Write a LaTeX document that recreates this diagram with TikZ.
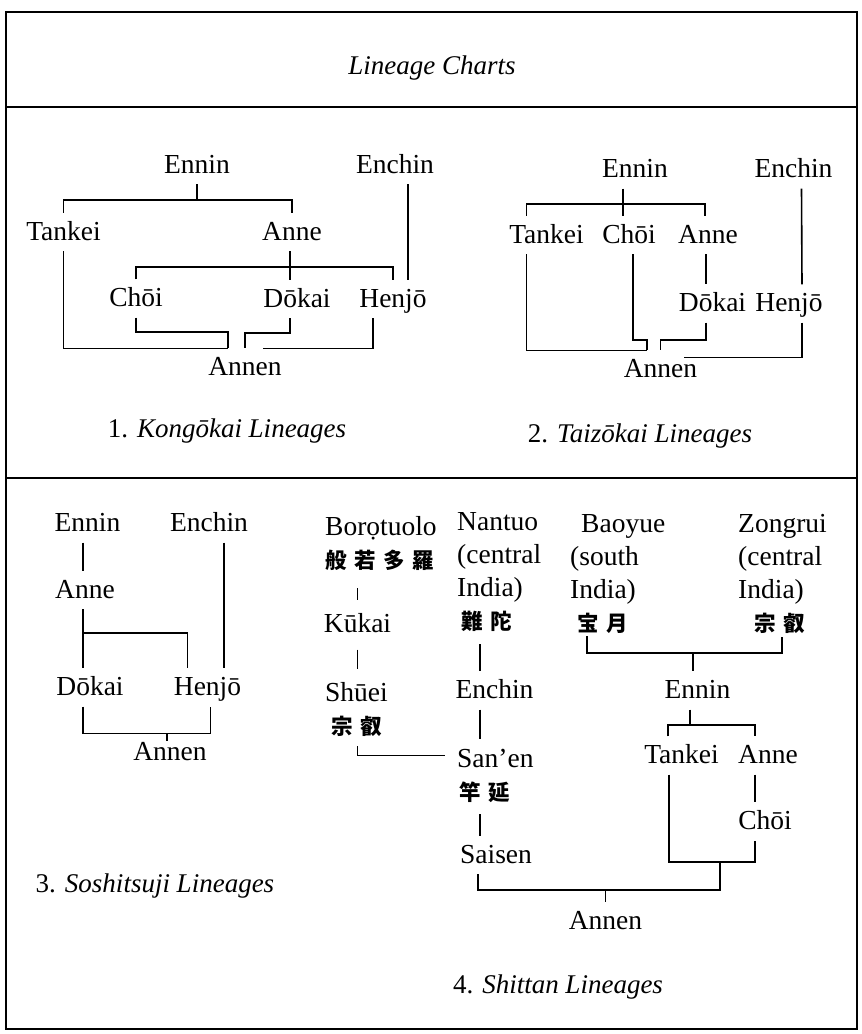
\documentclass[tikz,border=0pt]{standalone}
\usepackage{fontspec}
\setmainfont{Liberation Serif}
\newfontfamily\cjk[LetterSpace=36]{Noto Sans CJK JP}
\newcommand{\kj}[1]{{\cjk\bfseries\fontsize{21.5}{33}\selectfont #1}}
\tikzset{
lin/.style={line width=1.6pt},
monk/.style={font=\fontsize{27.5}{33}\selectfont, inner sep=3pt, text height=24pt, text depth=8pt},
blk/.style={font=\fontsize{27.5}{33}\selectfont, inner sep=3pt, align=left, anchor=north west},
legend/.style={font=\fontsize{27}{33}\selectfont, anchor=base},
}
\begin{document}
\begin{tikzpicture}[x=1pt,y=-1pt]
\useasboundingbox (0,0) rectangle (862,1034);
% frame
\draw[line width=2.5pt] (6,12) rectangle (857,1029);
\draw[line width=2.5pt] (6,107) -- (857,107);
\draw[line width=2.5pt] (6,478) -- (857,478);
\node[legend] (title) at (432,74) {\textit{Lineage Charts}};

% 1. Kongokai
\node[monk] (enninA) at (197,165) {Ennin};
\node[monk] (enchinA) at (395,165) {Enchin};
\node[monk] (tankeiA) at (63.5,232) {Tankei};
\node[monk] (anneA) at (292,232) {Anne};
\node[monk] (choiA) at (136,298.5) {Chōi};
\node[monk] (dokaiA) at (297,299) {Dōkai};
\node[monk] (henjoA) at (393,299) {Henjō};
\node[monk] (annenA) at (245,367.5) {Annen};
\coordinate (brA) at (197,200);
\coordinate (brA2) at (290,267);
\coordinate (jA) at (228,332);
\coordinate (dA) at (245,333);
\draw[lin] (enninA) -- (brA);
\draw[lin] (tankeiA.north) |- (brA) -| (anneA.north);
\draw[lin] ([xshift=13pt]enchinA.south) -- ([xshift=15pt]henjoA.north);
\draw[lin] ([xshift=-2pt]anneA.south) -- ([xshift=-7pt]dokaiA.north);
\draw[lin] (choiA.north) |- (brA2) -| (henjoA.north);
\draw[lin] (tankeiA.south) |- (annenA.north -| jA);
\draw[lin] (choiA.south) |- (jA) -- (annenA.north -| jA);
\draw[lin] ([xshift=-7pt]dokaiA.south) |- (dA) -- (annenA.north);
\draw[lin] ([xshift=-20pt]henjoA.south) |- ([xshift=18pt]annenA.north);
\node[legend] (capA) at (227,437) {1. \textit{Kongōkai Lineages}};

% 2. Taizokai
\node[monk] (enninB) at (635,169.5) {Ennin};
\node[monk] (enchinB) at (793.5,169.5) {Enchin};
\node[monk] (tankeiB) at (546.5,235) {Tankei};
\node[monk] (choiB) at (629,235) {Chōi};
\node[monk] (anneB) at (708,235) {Anne};
\node[monk] (dokaiB) at (712.5,303.5) {Dōkai};
\node[monk] (henjoB) at (789,303.5) {Henjō};
\node[monk] (annenB) at (660.5,369.5) {Annen};
\coordinate (brB) at (623,204);
\coordinate (jB) at (647,340);
\coordinate (dB) at (660.5,340);
\coordinate (hB) at (683.5,357.5);
\draw[lin] ([xshift=-12pt]enninB.south) -- ([xshift=-6pt]choiB.north);
\draw[lin] ([xshift=-20pt]tankeiB.north) |- (brB) -| ([xshift=-3pt]anneB.north);
\draw[lin] ([xshift=8pt]enchinB.south) -- ([xshift=13pt]henjoB.north);
\draw[lin] ([xshift=-2pt]anneB.south) -- ([xshift=-6.5pt]dokaiB.north);
\draw[lin] ([xshift=-20pt]tankeiB.south) |- (annenB.north -| jB);
\draw[lin] ([xshift=4pt]choiB.south) |- (jB) -- (annenB.north -| jB);
\draw[lin] ([xshift=-6.5pt]dokaiB.south) |- (dB) -- (annenB.north);
\draw[lin] ([xshift=13pt]henjoB.south) |- (hB);
\node[legend] (capB) at (640,442) {2. \textit{Taizōkai Lineages}};

% 3. Soshitsuji
\node[monk] (enninC) at (87.5,523.5) {Ennin};
\node[monk] (enchinC) at (209,523.5) {Enchin};
\node[monk] (anneC) at (85,590) {Anne};
\node[monk] (dokaiC) at (90,687.5) {Dōkai};
\node[monk] (henjoC) at (207.5,687.5) {Henjō};
\node[monk] (annenC) at (170,752.5) {Annen};
\coordinate (brC) at (83,633);
\draw[lin] ([xshift=-4.5pt]enninC.south) -- ([xshift=-2pt]anneC.north);
\draw[lin] ([xshift=15pt]enchinC.south) -- ([xshift=16.5pt]henjoC.north);
\draw[lin] ([xshift=-2pt]anneC.south) -- ([xshift=-7pt]dokaiC.north);
\draw[lin] (brC) -| ([xshift=-20pt]henjoC.north);
\draw[lin] ([xshift=-7pt]dokaiC.south) |- ([xshift=-3pt]annenC.north) -| ([xshift=3pt]henjoC.south);
\draw[lin] ([xshift=-3pt]annenC.north) -- ([xshift=-3pt,yshift=-8pt]annenC.north);
\node[legend] (capC) at (155,892) {3. \textit{Soshitsuji Lineages}};

% 4. Shittan
\node[blk] (boroD) at (322,513.5) {Borọtuolo\\\kj{般若多羅}};
\node[monk] (kukaiD) at (357.5,624.5) {Kūkai};
\node[blk] (shueiD) at (322,679.5) {Shūei\\\hspace*{6pt}\kj{宗叡}};
\node[blk] (nantuoD) at (454,509.5) {Nantuo\\(central\\India)\\\hspace*{4pt}\kj{難陀}};
\node[monk] (enchinD) at (494.5,690.5) {Enchin};
\node[blk] (sanenD) at (454,746.5) {San’en\\\hspace*{2pt}\kj{竿延}};
\node[monk] (saisenD) at (496,855) {Saisen};
\node[blk] (baoyueD) at (567,511) {\hspace*{11pt}Baoyue\\(south\\India)\\\hspace*{7pt}\kj{宝月}};
\node[blk] (zongruiD) at (735,511) {Zongrui\\(central\\India)\\\hspace*{16pt}\kj{宗叡}};
\node[monk] (enninD) at (697.5,690.5) {Ennin};
\node[monk] (tankeiD) at (681.5,755.5) {Tankei};
\node[monk] (anneD) at (768,755.5) {Anne};
\node[monk] (choiD) at (765,821.5) {Chōi};
\node[monk] (annenD) at (605.5,921.5) {Annen};
\coordinate (brD1) at (693,653);
\coordinate (brD2) at (690,725);
\coordinate (brD3) at (720,862);
\coordinate (jD) at (720,890);
\draw[lin,shorten <=14pt,shorten >=5pt] (kukaiD |- boroD.south) -- (kukaiD);
\draw[lin,shorten <=6pt,shorten >=11pt] (kukaiD) -- (kukaiD |- shueiD.north);
\draw[lin,shorten <=6pt,shorten >=9pt] (kukaiD |- shueiD.south) |- ([yshift=-9pt]sanenD.north west);
\draw[lin,shorten <=9pt] ([xshift=26pt]nantuoD.south west) -- ([xshift=-14.5pt]enchinD.north);
\draw[lin,shorten >=8pt] ([xshift=-14.5pt]enchinD.south) -- ([xshift=26pt]sanenD.north west);
\draw[lin,shorten <=8pt] ([xshift=26pt]sanenD.south west) -- ([xshift=-16pt]saisenD.north);
\draw[lin] ([xshift=20pt]baoyueD.south west) |- (brD1) -| ([xshift=47pt]zongruiD.south west);
\draw[lin] (brD1) -- ([xshift=-4.5pt]enninD.north);
\draw[lin] ([xshift=-7.5pt]enninD.south) -- (brD2);
\draw[lin] ([xshift=-13.5pt]tankeiD.north) |- (brD2) -| ([xshift=-13pt]anneD.north);
\draw[lin] ([xshift=-13pt]anneD.south) -- ([xshift=-10pt]choiD.north);
\draw[lin] ([xshift=-12.5pt]tankeiD.south) |- (brD3) -| ([xshift=-10pt]choiD.south);
\draw[lin] ([xshift=-18pt]saisenD.south) |- (jD) -- (brD3);
\draw[lin] (annenD.north |- jD) -- (annenD.north);
\node[legend] (capD) at (558,993) {4. \textit{Shittan Lineages}};
\end{tikzpicture}
\end{document}
